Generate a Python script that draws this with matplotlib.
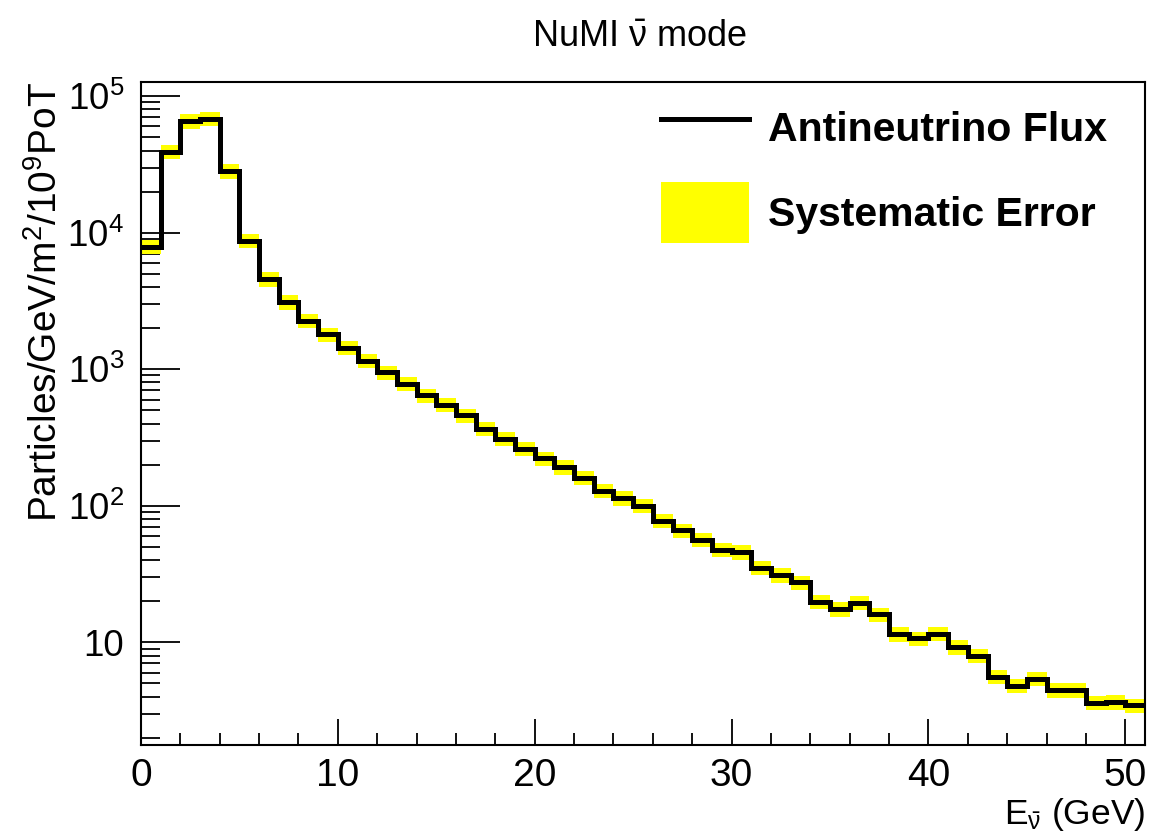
import numpy as np
import matplotlib
matplotlib.use("Agg")
import matplotlib.pyplot as plt
from matplotlib.lines import Line2D
from matplotlib.patches import Patch
from matplotlib.ticker import FixedLocator, MultipleLocator, FuncFormatter, NullFormatter

plt.rcParams["font.family"] = ["Liberation Sans", "DejaVu Sans"]
plt.rcParams["mathtext.fontset"] = "custom"
plt.rcParams["mathtext.rm"] = "Liberation Sans"
plt.rcParams["mathtext.it"] = "Liberation Sans"
plt.rcParams["mathtext.bf"] = "Liberation Sans:bold"

# 1 GeV bins, 0..51 GeV
bin_edges = list(range(0, 52))
flux = [
    7900, 39200, 65600, 68200, 28300, 8740, 4580, 3100, 2270, 1800,
    1440, 1157, 950, 782, 643, 549, 459, 366, 310, 262,
    222, 192, 160, 129, 114, 100, 78, 66, 56.5, 47.7,
    45.8, 35.2, 31.1, 27.5, 19.9, 17.5, 19.5, 16.0, 11.5, 10.7,
    11.6, 9.25, 7.96, 5.58, 4.80, 5.43, 4.47, 4.47, 3.60, 3.66,
    3.45,
]
sys_frac = 0.12  # relative systematic error

edges = np.array(bin_edges, dtype=float)
vals = np.array(flux)
err = vals * sys_frac

fig = plt.figure(figsize=(11.49, 8.33), dpi=100)
ax = fig.add_axes([141 / 1149, 1 - 745 / 833, 1004 / 1149, 663 / 833])

ax.bar(edges[:-1], 2 * err, bottom=vals - err, width=np.diff(edges), align="edge",
       color="#ffff00", linewidth=0, zorder=2)
ax.stairs(vals, edges, baseline=None, color="black", linewidth=3.6, zorder=3)

ax.set_yscale("log")
ax.set_xlim(0, 51)
ax.set_ylim(1.77, 1.27e5)

ax.xaxis.set_major_locator(MultipleLocator(10))
ax.xaxis.set_minor_locator(MultipleLocator(2))
ax.yaxis.set_major_locator(FixedLocator([10, 1e2, 1e3, 1e4, 1e5]))
minor_y = [m * 10.0 ** d for d in range(0, 5) for m in range(2, 10)]
ax.yaxis.set_minor_locator(FixedLocator(minor_y))
ax.yaxis.set_minor_formatter(NullFormatter())
ax.yaxis.set_major_formatter(FuncFormatter(
    lambda v, p: "10" if v == 10 else "$10^{%d}$" % int(round(np.log10(v)))))

ax.tick_params(axis="both", which="both", direction="in", top=False, right=False, width=1.3)
ax.tick_params(axis="x", which="major", length=19, labelsize=28, pad=9)
ax.tick_params(axis="x", which="minor", length=9)
ax.tick_params(axis="y", which="major", length=28, labelsize=26.5, pad=12)
ax.tick_params(axis="y", which="minor", length=14)
for s in ax.spines.values():
    s.set_linewidth(1.5)

ax.set_ylabel("Particles/GeV/m$^2$/10$^9$PoT", fontsize=28, loc="top", labelpad=2)
ax.set_xlabel(r"E$_{\bar{\nu}}$ (GeV)", fontsize=25.5, loc="right", labelpad=2)
fig.text(0.557, 0.956, r"NuMI $\bar{\nu}$ mode", fontsize=26, ha="center", va="center")

handles = [
    Line2D([], [], color="black", linewidth=3.6),
    Patch(facecolor="#ffff00", edgecolor="none"),
]
ax.legend(handles, ["Antineutrino Flux", "Systematic Error"],
          loc="upper left", bbox_to_anchor=(0.518, 0.977), frameon=False,
          prop={"weight": "bold", "size": 29.5}, borderpad=0, borderaxespad=0,
          handlelength=2.15, handleheight=1.9, handletextpad=0.45, labelspacing=0.6)

fig.savefig("out.png", dpi=100)
